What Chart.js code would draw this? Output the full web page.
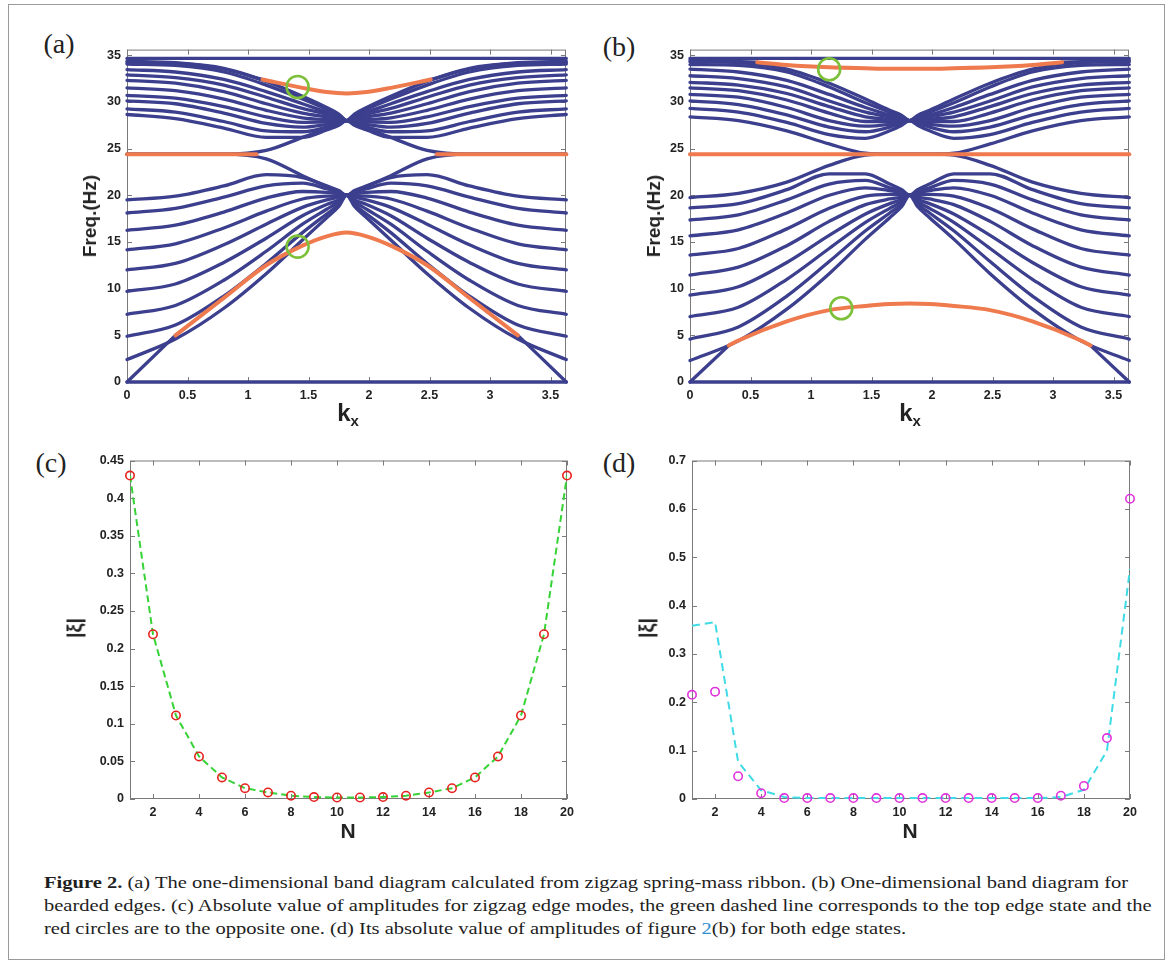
<!DOCTYPE html>
<html>
<head>
<meta charset="utf-8">
<title>Figure 2</title>
<script src="https://cdn.jsdelivr.net/npm/chart.js"></script>
<style>
  body { margin: 0; background: #fff; width: 1168px; height: 962px; position: relative; overflow: hidden; }
  .frame { position: absolute; left: 8px; top: 4px; width: 1155px; height: 954px; border: 1px solid #9a9a9a; }
  canvas { position: absolute; }
  .plab { position: absolute; font-family: "Liberation Serif", serif; font-size: 28px; color: #222; transform: translate(-50%, -50%); }
  .atitle { position: absolute; font-family: "Liberation Sans", Arial, sans-serif; font-weight: bold; color: #222; white-space: nowrap; transform: translate(-50%, -50%); }
  .rot { transform: translate(-50%, -50%) rotate(-90deg); }
  .caption { position: absolute; left: 44px; top: 871px; font-family: "Liberation Serif", serif; font-size: 17px; line-height: 23px; color: #1e1e1e; white-space: nowrap; transform-origin: 0 0; }
  .caption .ref { color: #2f8fd0; }
</style>
</head>
<body>
<div class="frame"></div>
<canvas id="chartA" width="503" height="376" style="left:77px; top:36px;"></canvas>
<canvas id="chartB" width="503" height="376" style="left:640px; top:36px;"></canvas>
<canvas id="chartC" width="501" height="382" style="left:80px; top:447px;"></canvas>
<canvas id="chartD" width="502" height="382" style="left:642px; top:447px;"></canvas>

<div class="plab" style="left:59px; top:44px;">(a)</div>
<div class="plab" style="left:619px; top:47px;">(b)</div>
<div class="plab" style="left:51px; top:463px;">(c)</div>
<div class="plab" style="left:619px; top:463px;">(d)</div>

<div class="atitle rot" style="left:90px; top:216px; font-size:19px;">Freq.(Hz)</div>
<div class="atitle rot" style="left:654px; top:216px; font-size:19px;">Freq.(Hz)</div>
<div class="atitle" style="left:348px; top:414px; font-size:24px;">k<sub style="font-size:15px;">x</sub></div>
<div class="atitle" style="left:910px; top:414px; font-size:24px;">k<sub style="font-size:15px;">x</sub></div>
<div class="atitle rot" style="left:75px; top:628px; font-size:20px;">|ξ|</div>
<div class="atitle rot" style="left:647px; top:628px; font-size:20px;">|ξ|</div>
<div class="atitle" style="left:348px; top:831px; font-size:21px;">N</div>
<div class="atitle" style="left:910px; top:831px; font-size:21px;">N</div>

<div class="caption" id="caption">
  <div id="capLine1"><b>Figure 2.</b> (a) The one-dimensional band diagram calculated from zigzag spring-mass ribbon. (b) One-dimensional band diagram for</div>
  <div>bearded edges. (c) Absolute value of amplitudes for zigzag edge modes, the green dashed line corresponds to the top edge state and the</div>
  <div>red circles are to the opposite one. (d) Its absolute value of amplitudes of figure <span class="ref">2</span>(b) for both edge states.</div>
</div>

<script>
// k grid shared by the bulk bands (symmetric about the zone centre)
const bandK = [0, 0.4, 0.8, 1.15, 1.45, 1.65, 1.75, 1.815, 1.88, 1.98, 2.18, 2.48, 2.83, 3.23, 3.63];
const kMax = 3.6276;
const kTicks = [0, 0.5, 1, 1.5, 2, 2.5, 3, 3.5];
const freqTicks = [0, 5, 10, 15, 20, 25, 30, 35];

// ---- panel (a): zigzag ribbon ----
const aLowerBands = [
  [2.4, 4.6, 7.9, 11.6, 15.2, 17.6, 18.8, 20.0, 18.8, 17.6, 15.2, 11.6, 7.9, 4.6, 2.4],
  [4.9, 6.1, 9.2, 12.7, 16.0, 18.0, 19.0, 20.0, 19.0, 18.0, 16.0, 12.7, 9.2, 6.1, 4.9],
  [7.25, 8.2, 10.9, 14.0, 16.9, 18.5, 19.3, 20.0, 19.3, 18.5, 16.9, 14.0, 10.9, 8.2, 7.25],
  [9.7, 10.5, 12.8, 15.4, 17.8, 19.0, 19.5, 20.0, 19.5, 19.0, 17.8, 15.4, 12.8, 10.5, 9.7],
  [12.0, 12.7, 14.7, 16.9, 18.7, 19.5, 19.8, 20.0, 19.8, 19.5, 18.7, 16.9, 14.7, 12.7, 12.0],
  [14.15, 14.8, 16.5, 18.3, 19.6, 19.9, 19.95, 20.0, 19.95, 19.9, 19.6, 18.3, 16.5, 14.8, 14.15],
  [16.25, 16.8, 18.2, 19.7, 20.4, 20.3, 20.15, 20.0, 20.15, 20.3, 20.4, 19.7, 18.2, 16.8, 16.25],
  [18.1, 18.6, 19.8, 21.0, 21.3, 20.7, 20.3, 20.0, 20.3, 20.7, 21.3, 21.0, 19.8, 18.6, 18.1],
  [19.5, 19.9, 21.0, 22.2, 21.9, 21.0, 20.5, 20.0, 20.5, 21.0, 21.9, 22.2, 21.0, 19.9, 19.5],
  [24.4, 24.4, 24.4, 23.9, 22.1, 20.95, 20.4, 20.0, 20.4, 20.95, 22.1, 23.9, 24.4, 24.4, 24.4]
];
const aUpperBands = [
  [24.4, 24.4, 24.4, 24.8, 26.2, 27.2, 27.7, 28.0, 27.7, 27.2, 26.2, 24.8, 24.4, 24.4, 24.4],
  [28.65, 28.2, 27.2, 26.2, 26.2, 27.0, 27.5, 28.0, 27.5, 27.0, 26.2, 26.2, 27.2, 28.2, 28.65],
  [29.25, 28.9, 27.9, 26.9, 26.8, 27.3, 27.7, 28.0, 27.7, 27.3, 26.8, 26.9, 27.9, 28.9, 29.25],
  [30.1, 29.8, 28.8, 27.7, 27.3, 27.6, 27.8, 28.0, 27.8, 27.6, 27.3, 27.7, 28.8, 29.8, 30.1],
  [30.7, 30.4, 29.5, 28.4, 27.8, 27.85, 27.9, 28.0, 27.9, 27.85, 27.8, 28.4, 29.5, 30.4, 30.7],
  [31.5, 31.2, 30.3, 29.1, 28.3, 28.1, 28.05, 28.0, 28.05, 28.1, 28.3, 29.1, 30.3, 31.2, 31.5],
  [32.3, 32.0, 31.1, 29.8, 28.8, 28.4, 28.2, 28.0, 28.2, 28.4, 28.8, 29.8, 31.1, 32.0, 32.3],
  [32.9, 32.6, 31.8, 30.5, 29.3, 28.7, 28.35, 28.0, 28.35, 28.7, 29.3, 30.5, 31.8, 32.6, 32.9],
  [33.45, 33.2, 32.4, 31.1, 29.8, 28.9, 28.45, 28.0, 28.45, 28.9, 29.8, 31.1, 32.4, 33.2, 33.45],
  [34.05, 33.9, 33.2, 31.8, 30.3, 29.2, 28.6, 28.0, 28.6, 29.2, 30.3, 31.8, 33.2, 33.9, 34.05],
  [34.35, 34.2, 33.6, 32.2, 30.6, 29.4, 28.7, 28.0, 28.7, 29.4, 30.6, 32.2, 33.6, 34.2, 34.35]
];
const aFlatK = [0, 3.63];
const aZeroBand = [0, 0];
const aTopBand = [34.65, 34.65];
// lowest (acoustic) band, edge state in the middle
const aLowEdgeK = [0, 0.4, 0.8, 1.15, 1.45, 1.65, 1.815, 1.98, 2.18, 2.48, 2.83, 3.23, 3.63];
const aLowEdgeF = [0, 5.0, 9.0, 12.5, 14.6, 15.6, 16.0, 15.6, 14.6, 12.5, 9.0, 5.0, 0];
// upper edge state branch
const aTopEdgeK = [0, 0.46, 0.8, 1.12, 1.45, 1.65, 1.815, 1.98, 2.18, 2.51, 2.83, 3.17, 3.63];
const aTopEdgeF = [34.2, 34.1, 33.5, 32.4, 31.5, 31.05, 30.9, 31.05, 31.5, 32.4, 33.5, 34.1, 34.2];
// flat edge band at 24.4 Hz (orange parts)
const aMidEdgeLeftK = [0, 1.07];
const aMidEdgeRightK = [2.56, 3.63];
const aMidEdgeF = [24.4, 24.4];
const aMarkK = [1.41, 1.41];
const aMarkF = [31.6, 14.5];

// ---- panel (b): bearded ribbon ----
const bLowerBands = [
  [2.3, 4.4, 7.8, 11.6, 15.3, 17.6, 18.8, 20.0, 18.8, 17.6, 15.3, 11.6, 7.8, 4.4, 2.3],
  [4.6, 5.9, 9.2, 12.9, 16.2, 18.1, 19.05, 20.0, 19.05, 18.1, 16.2, 12.9, 9.2, 5.9, 4.6],
  [7.0, 8.0, 11.0, 14.3, 17.1, 18.6, 19.3, 20.0, 19.3, 18.6, 17.1, 14.3, 11.0, 8.0, 7.0],
  [9.3, 10.2, 12.8, 15.7, 18.0, 19.1, 19.55, 20.0, 19.55, 19.1, 18.0, 15.7, 12.8, 10.2, 9.3],
  [11.45, 12.3, 14.6, 17.2, 19.0, 19.6, 19.8, 20.0, 19.8, 19.6, 19.0, 17.2, 14.6, 12.3, 11.45],
  [13.6, 14.3, 16.4, 18.6, 19.9, 20.1, 20.05, 20.0, 20.05, 20.1, 19.9, 18.6, 16.4, 14.3, 13.6],
  [15.65, 16.3, 18.1, 20.0, 20.8, 20.5, 20.25, 20.0, 20.25, 20.5, 20.8, 20.0, 18.1, 16.3, 15.65],
  [17.35, 17.9, 19.5, 21.2, 21.6, 20.8, 20.4, 20.0, 20.4, 20.8, 21.6, 21.2, 19.5, 17.9, 17.35],
  [18.65, 19.1, 20.6, 22.3, 22.3, 21.2, 20.6, 20.0, 20.6, 21.2, 22.3, 22.3, 20.6, 19.1, 18.65],
  [19.75, 20.2, 21.4, 23.2, 24.3, 24.4, 24.4, 24.4, 24.4, 24.4, 24.3, 23.2, 21.4, 20.2, 19.75]
];
const bUpperBands = [
  [28.4, 28.0, 26.9, 25.5, 24.5, 24.4, 24.4, 24.4, 24.4, 24.4, 24.5, 25.5, 26.9, 28.0, 28.4],
  [29.3, 28.9, 27.8, 26.5, 26.1, 26.9, 27.5, 28.0, 27.5, 26.9, 26.1, 26.5, 27.8, 28.9, 29.3],
  [30.1, 29.7, 28.6, 27.3, 26.8, 27.3, 27.7, 28.0, 27.7, 27.3, 26.8, 27.3, 28.6, 29.7, 30.1],
  [30.8, 30.5, 29.4, 28.0, 27.4, 27.6, 27.8, 28.0, 27.8, 27.6, 27.4, 28.0, 29.4, 30.5, 30.8],
  [31.5, 31.2, 30.2, 28.8, 27.9, 27.9, 27.95, 28.0, 27.95, 27.9, 27.9, 28.8, 30.2, 31.2, 31.5],
  [32.1, 31.8, 30.9, 29.5, 28.4, 28.15, 28.1, 28.0, 28.1, 28.15, 28.4, 29.5, 30.9, 31.8, 32.1],
  [32.8, 32.5, 31.6, 30.1, 28.9, 28.4, 28.2, 28.0, 28.2, 28.4, 28.9, 30.1, 31.6, 32.5, 32.8],
  [33.5, 33.2, 32.3, 30.8, 29.4, 28.6, 28.3, 28.0, 28.3, 28.6, 29.4, 30.8, 32.3, 33.2, 33.5],
  [34.0, 33.9, 33.2, 31.6, 29.9, 28.9, 28.45, 28.0, 28.45, 28.9, 29.9, 31.6, 33.2, 33.9, 34.0],
  [34.3, 34.2, 33.5, 32.0, 30.3, 29.1, 28.55, 28.0, 28.55, 29.1, 30.3, 32.0, 33.5, 34.2, 34.3]
];
const bLowEdgeK = [0, 0.32, 0.4, 0.8, 1.15, 1.45, 1.65, 1.815, 1.98, 2.18, 2.48, 2.83, 3.23, 3.31, 3.63];
const bLowEdgeF = [0, 3.9, 4.45, 6.5, 7.7, 8.15, 8.35, 8.4, 8.35, 8.15, 7.7, 6.5, 4.45, 3.9, 0];
const bTopEdgeK = [0, 0.555, 0.8, 1.15, 1.45, 1.65, 1.815, 1.98, 2.18, 2.48, 2.83, 3.075, 3.63];
const bTopEdgeF = [34.45, 34.25, 33.95, 33.7, 33.6, 33.55, 33.55, 33.55, 33.6, 33.7, 33.95, 34.25, 34.45];
const bMidEdgeK = [0, 3.63];
const bMidEdgeF = [24.4, 24.4];
const bMarkK = [1.15, 1.25];
const bMarkF = [33.5, 7.9];

// ---- panels (c) and (d): amplitude profiles ----
const nSites = [1, 2, 3, 4, 5, 6, 7, 8, 9, 10, 11, 12, 13, 14, 15, 16, 17, 18, 19, 20];
const nTicks = [2, 4, 6, 8, 10, 12, 14, 16, 18, 20];
const cTopEdgeLine = [0.43, 0.219, 0.111, 0.0566, 0.0287, 0.0144, 0.0087, 0.0044, 0.0026, 0.002,
                      0.002, 0.0026, 0.0044, 0.0087, 0.0144, 0.0287, 0.0566, 0.111, 0.219, 0.43];
const cBottomEdgeCircles = [0.43, 0.219, 0.111, 0.0566, 0.0287, 0.0144, 0.0087, 0.0044, 0.0026, 0.002,
                            0.002, 0.0026, 0.0044, 0.0087, 0.0144, 0.0287, 0.0566, 0.111, 0.219, 0.43];
const cYTicks = [0, 0.05, 0.1, 0.15, 0.2, 0.25, 0.3, 0.35, 0.4, 0.45];
const dEdgeLine = [0.358, 0.366, 0.077, 0.018, 0.004, 0.002, 0.002, 0.002, 0.002, 0.002,
                   0.002, 0.002, 0.002, 0.002, 0.002, 0.002, 0.004, 0.019, 0.1, 0.476];
const dEdgeCircles = [0.2155, 0.222, 0.047, 0.012, 0.002, 0.002, 0.002, 0.002, 0.002, 0.002,
                      0.002, 0.002, 0.002, 0.002, 0.002, 0.002, 0.0068, 0.027, 0.126, 0.621];
const dYTicks = [0, 0.1, 0.2, 0.3, 0.4, 0.5, 0.6, 0.7];

const BLUE = '#3b3f8d';
const ORANGE = '#ee7a4e';
const GREEN = '#7dc03a';
const TICK_FONT = { family: '"Liberation Sans", Arial, sans-serif', size: 12.5, weight: 'bold' };

function pts(k, f) {
  return k.map((v, i) => ({ x: v, y: f[i] }));
}

// higher "order" is painted first, so blue sits under orange and the circles
function curve(k, f, color, order, width) {
  return {
    data: pts(k, f), showLine: true, borderColor: color, borderWidth: width,
    pointRadius: 0, cubicInterpolationMode: 'monotone', clip: 8,
    borderCapStyle: 'round', borderJoinStyle: 'round', order: order
  };
}

function blue(k, f) { return curve(k, f, BLUE, 2, 3.3); }
function orange(k, f) { return curve(k, f, ORANGE, 1, 4); }

// piece of a band between two indices of its own k list
function part(k, f, from, to, maker) {
  return maker(k.slice(from, to + 1), f.slice(from, to + 1));
}

function markers(k, f) {
  return {
    data: pts(k, f), showLine: false, pointRadius: 11, pointBorderWidth: 2.6,
    pointBorderColor: GREEN, pointBackgroundColor: 'rgba(0,0,0,0)', clip: 20, order: 0
  };
}

// MATLAB style box with inward tick marks on all four sides
const boxTicks = {
  id: 'boxTicks',
  beforeDatasetsDraw(chart) {
    const { ctx, chartArea: a, scales } = chart;
    ctx.save();
    ctx.strokeStyle = '#7a7a7a';
    ctx.lineWidth = 1;
    ctx.strokeRect(a.left + 0.5, a.top + 0.5, a.width - 1, a.height - 1);
    ctx.beginPath();
    scales.x.ticks.forEach(t => {
      const px = Math.round(scales.x.getPixelForValue(t.value)) + 0.5;
      ctx.moveTo(px, a.bottom); ctx.lineTo(px, a.bottom - 5);
      ctx.moveTo(px, a.top); ctx.lineTo(px, a.top + 5);
    });
    scales.y.ticks.forEach(t => {
      const py = Math.round(scales.y.getPixelForValue(t.value)) + 0.5;
      ctx.moveTo(a.left, py); ctx.lineTo(a.left + 5, py);
      ctx.moveTo(a.right, py); ctx.lineTo(a.right - 5, py);
    });
    ctx.stroke();
    ctx.restore();
  }
};

function axisOptions(xMin, xMax, xTicks, yMin, yMax, yTicks) {
  return {
    x: {
      type: 'linear', min: xMin, max: xMax,
      grid: { display: false, drawTicks: false }, border: { display: false },
      ticks: { font: TICK_FONT, color: '#222', padding: 6, maxRotation: 0, callback: v => String(v) },
      afterBuildTicks: s => { s.ticks = xTicks.map(v => ({ value: v })); },
      afterFit: s => { s.height = 30; }
    },
    y: {
      type: 'linear', min: yMin, max: yMax,
      grid: { display: false, drawTicks: false }, border: { display: false },
      ticks: { font: TICK_FONT, color: '#222', padding: 6, callback: v => String(v) },
      afterBuildTicks: s => { s.ticks = yTicks.map(v => ({ value: v })); },
      afterFit: s => { s.width = 50; }
    }
  };
}

function makeChart(id, datasets, scales, pad) {
  return new Chart(document.getElementById(id), {
    type: 'scatter',
    data: { datasets },
    options: {
      responsive: false,
      animation: false,
      devicePixelRatio: 1,
      layout: { padding: pad },
      plugins: { legend: { display: false }, tooltip: { enabled: false } },
      scales
    },
    plugins: [boxTicks]
  });
}

// panel (a)
const aSets = [];
aSets.push(blue(aFlatK, aZeroBand), blue(aFlatK, aTopBand));
aLowerBands.forEach(f => aSets.push(blue(bandK, f)));
aUpperBands.forEach(f => aSets.push(blue(bandK, f)));
aSets.push(part(aLowEdgeK, aLowEdgeF, 0, 1, blue), part(aLowEdgeK, aLowEdgeF, 11, 12, blue));
aSets.push(part(aLowEdgeK, aLowEdgeF, 1, 11, orange));
aSets.push(part(aTopEdgeK, aTopEdgeF, 0, 3, blue), part(aTopEdgeK, aTopEdgeF, 9, 12, blue));
aSets.push(part(aTopEdgeK, aTopEdgeF, 3, 9, orange));
aSets.push(orange(aMidEdgeLeftK, aMidEdgeF), orange(aMidEdgeRightK, aMidEdgeF));
aSets.push(markers(aMarkK, aMarkF));
makeChart('chartA', aSets, axisOptions(0, kMax, kTicks, 0, 35.6, freqTicks), { top: 8, right: 14 });

// panel (b)
const bSets = [];
bSets.push(blue(aFlatK, aZeroBand), blue(aFlatK, aTopBand));
bLowerBands.forEach(f => bSets.push(blue(bandK, f)));
bUpperBands.forEach(f => bSets.push(blue(bandK, f)));
bSets.push(part(bLowEdgeK, bLowEdgeF, 0, 1, blue), part(bLowEdgeK, bLowEdgeF, 13, 14, blue));
bSets.push(part(bLowEdgeK, bLowEdgeF, 1, 13, orange));
bSets.push(part(bTopEdgeK, bTopEdgeF, 0, 1, blue), part(bTopEdgeK, bTopEdgeF, 11, 12, blue));
bSets.push(part(bTopEdgeK, bTopEdgeF, 1, 11, orange));
bSets.push(orange(bMidEdgeK, bMidEdgeF));
bSets.push(markers(bMarkK, bMarkF));
makeChart('chartB', bSets, axisOptions(0, kMax, kTicks, 0, 35.6, freqTicks), { top: 8, right: 14 });

// panel (c)
makeChart('chartC', [
  { data: pts(nSites, cTopEdgeLine), showLine: true, borderColor: '#35d335', borderWidth: 2,
    borderDash: [7, 4], pointRadius: 0, tension: 0, order: 1 },
  { data: pts(nSites, cBottomEdgeCircles), showLine: false, pointRadius: 4.2, pointBorderWidth: 1.6,
    pointBorderColor: '#e5221e', pointBackgroundColor: 'rgba(0,0,0,0)', clip: 8, order: 0 }
], axisOptions(1, 20, nTicks, 0, 0.45, cYTicks), { top: 8, right: 14 });

// panel (d)
makeChart('chartD', [
  { data: pts(nSites, dEdgeLine), showLine: true, borderColor: '#3fdbe6', borderWidth: 2,
    borderDash: [8, 5], pointRadius: 0, tension: 0, order: 1 },
  { data: pts(nSites, dEdgeCircles), showLine: false, pointRadius: 4.2, pointBorderWidth: 1.6,
    pointBorderColor: '#e032dc', pointBackgroundColor: 'rgba(0,0,0,0)', clip: 8, order: 0 }
], axisOptions(1, 20, nTicks, 0, 0.7, dYTicks), { top: 8, right: 14 });

// stretch the caption so the first line spans the same width as in the figure
const cap = document.getElementById('caption');
const line1 = document.getElementById('capLine1');
const sx = 1108 / line1.scrollWidth;
cap.style.transform = 'scaleX(' + sx.toFixed(4) + ')';
</script>
</body>
</html>
